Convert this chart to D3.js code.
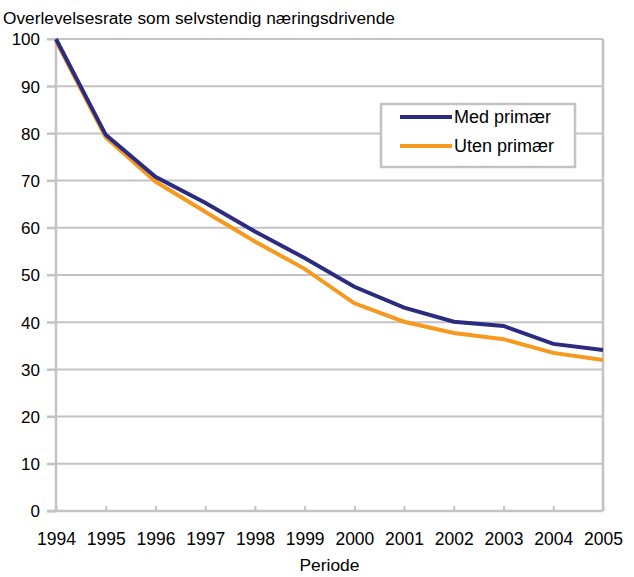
<!DOCTYPE html>
<html>
<head>
<meta charset="utf-8">
<script src="https://cdn.jsdelivr.net/npm/d3@7"></script>
<style>
  body { margin: 0; background: #fff; }
  text { font-family: Arial, "Liberation Sans", sans-serif; fill: #000; }
</style>
</head>
<body>
<svg id="chart" width="634" height="577"></svg>
<script>
// data
var years = ["1994", "1995", "1996", "1997", "1998", "1999", "2000", "2001", "2002", "2003", "2004", "2005"];
var medPrimaer = [100, 79.7, 70.8, 65.3, 59.2, 53.6, 47.5, 43.1, 40.1, 39.2, 35.4, 34.1];
var utenPrimaer = [99.6, 79.2, 69.8, 63.4, 57.1, 51.3, 44.0, 40.1, 37.7, 36.4, 33.5, 32.0];
var yTicks = [0, 10, 20, 30, 40, 50, 60, 70, 80, 90, 100];

var series = [
    { name: "Med primær", values: medPrimaer, color: "#2b2c80" },
    { name: "Uten primær", values: utenPrimaer, color: "#f7991e" }
];

var svg = d3.select("#chart");
var margin = {top: 39, right: 31, bottom: 66, left: 56};
var width = 634 - margin.left - margin.right;
var height = 577 - margin.top - margin.bottom;
var grid = "#c3c3c3";

var x = d3.scalePoint().domain(years).range([0, width]);
var y = d3.scaleLinear().domain([0, 100]).range([height, 0]);

svg.append("text")
    .attr("x", 3).attr("y", 24)
    .style("font-size", "17.3px")
    .text("Overlevelsesrate som selvstendig næringsdrivende");

var g = svg.append("g")
    .attr("transform", "translate(" + margin.left + "," + margin.top + ")");

// horizontal gridlines
g.selectAll(".grid")
    .data(yTicks.filter(function(d) { return d > 0; }))
    .enter().append("line")
    .attr("x1", -9).attr("x2", width)
    .attr("y1", function(d) { return y(d); })
    .attr("y2", function(d) { return y(d); })
    .attr("stroke", grid).attr("stroke-width", 2);

// y axis
var yAxis = g.append("g")
    .call(d3.axisLeft(y).tickValues(yTicks).tickSize(9).tickPadding(7));
yAxis.select(".domain").remove();
yAxis.selectAll("line").attr("stroke", grid).attr("stroke-width", 2);
yAxis.selectAll("text").style("font-size", "17px").attr("dy", "0.35em");

// frame: left, right, bottom
g.append("line").attr("x1", 0).attr("x2", 0).attr("y1", 0).attr("y2", height)
    .attr("stroke", grid).attr("stroke-width", 2.5);
g.append("line").attr("x1", width).attr("x2", width).attr("y1", 0).attr("y2", height)
    .attr("stroke", grid).attr("stroke-width", 2.5);
g.append("line").attr("x1", -9).attr("x2", width).attr("y1", height).attr("y2", height)
    .attr("stroke", grid).attr("stroke-width", 2.5);

// x axis with small inward ticks
var xAxis = g.append("g")
    .attr("transform", "translate(0," + height + ")")
    .call(d3.axisBottom(x).tickSizeInner(-5).tickSizeOuter(0).tickPadding(22));
xAxis.select(".domain").remove();
xAxis.selectAll("line").attr("stroke", grid).attr("stroke-width", 2);
xAxis.selectAll("text").style("font-size", "17.5px");

svg.append("text")
    .attr("x", margin.left + width / 2).attr("y", 571)
    .attr("text-anchor", "middle")
    .style("font-size", "17.4px")
    .text("Periode");

// lines
var line = d3.line()
    .x(function(d, i) { return x(years[i]); })
    .y(function(d) { return y(d); });

g.selectAll(".series")
    .data(series.slice().reverse())
    .enter().append("path")
    .attr("fill", "none")
    .attr("stroke", function(d) { return d.color; })
    .attr("stroke-width", 4)
    .attr("stroke-linejoin", "miter")
    .attr("d", function(d) { return line(d.values); });

// legend
var legend = svg.append("g").attr("transform", "translate(381,104)");
legend.append("rect")
    .attr("width", 194).attr("height", 63)
    .attr("fill", "#fff").attr("stroke", grid).attr("stroke-width", 2.5);
series.forEach(function(s, i) {
    var ly = 13 + i * 29;
    legend.append("line")
        .attr("x1", 19).attr("x2", 71).attr("y1", ly).attr("y2", ly)
        .attr("stroke", s.color).attr("stroke-width", 4);
    legend.append("text")
        .attr("x", 73).attr("y", ly).attr("dy", "0.36em")
        .style("font-size", "18px")
        .text(s.name);
});
</script>
</body>
</html>
